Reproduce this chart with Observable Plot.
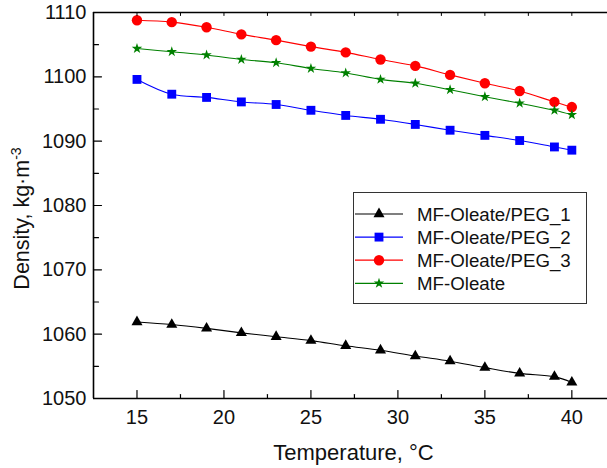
<!DOCTYPE html>
<html><head><meta charset="utf-8">
<script src="https://cdn.jsdelivr.net/npm/d3@7"></script>
<script src="https://cdn.jsdelivr.net/npm/@observablehq/plot@0.6"></script>
<style>html,body{margin:0;padding:0;background:#fff} svg{display:block}</style>
</head><body><div id="chart"></div>
<script>
const temperature = [15,17,19,21,23,25,27,29,31,33,35,37,39,40];
const peg1   = [1061.9,1061.5,1060.9,1060.2,1059.6,1059.0,1058.2,1057.5,1056.6,1055.8,1054.8,1053.9,1053.4,1052.5];
const peg2   = [1099.6,1097.3,1096.8,1096.1,1095.7,1094.8,1094.0,1093.4,1092.6,1091.7,1090.9,1090.1,1089.1,1088.6];
const peg3   = [1108.8,1108.5,1107.7,1106.6,1105.7,1104.7,1103.8,1102.7,1101.7,1100.3,1099.0,1097.8,1096.1,1095.3];
const oleate = [1104.4,1103.9,1103.4,1102.7,1102.2,1101.3,1100.6,1099.6,1099.0,1098.0,1096.9,1095.9,1094.8,1094.1];
const seriesNames = ["MF-Oleate/PEG_1","MF-Oleate/PEG_2","MF-Oleate/PEG_3","MF-Oleate"];
const seriesValues = [peg1, peg2, peg3, oleate];
const seriesColors = ["#000000","#0000ff","#ff0000","#008000"];
const seriesSymbols = ["triangle","square","circle","star"];
const seriesR = [4.1, 5.0, 5.2, 3.3];
const xTicks = [15,20,25,30,35,40];
const xMinorTicks = [17.5,22.5,27.5,32.5,37.5];
const xTopTicks = [15,17.5,20,22.5,25,27.5,30,32.5,35,37.5,40];
const yTicks = [1050,1060,1070,1080,1090,1100,1110];
const yMinorTicks = [1055,1065,1075,1085,1095,1105];
const xTitle = "Temperature, °C";
const yTitle = "Density, kg·m";
const yTitleSup = "-3";

const font = "'Liberation Sans', Arial, Helvetica, sans-serif";
const series = seriesNames.map((name, i) => ({
  name, color: seriesColors[i], symbol: seriesSymbols[i], r: seriesR[i],
  rows: temperature.map((t, j) => ({t, d: seriesValues[i][j]}))
}));

const tickShape = {draw(context, l) { context.moveTo(0, 0); context.lineTo(0, -l); }};

const marks = [];
series.forEach(s => {
  marks.push(Plot.line(s.rows, {x: "t", y: "d", stroke: s.color, strokeWidth: 1.1, curve: "catmull-rom"}));
});
series.forEach(s => {
  marks.push(Plot.dot(s.rows, {x: "t", y: "d", symbol: s.symbol, r: s.r, fill: s.color, stroke: "none"}));
});
// frame lines
marks.push(Plot.ruleX([12.5], {stroke: "#000", strokeWidth: 1.6}));
marks.push(Plot.ruleY([1050, 1110], {stroke: "#000", strokeWidth: 1.6}));
// ticks (inward)
const tk = {shape: tickShape, anchor: "start", stroke: "#000", strokeWidth: 1.2};
marks.push(Plot.vector(yTicks, {...tk, y: d => d, frameAnchor: "left", length: 8, rotate: 90}));
marks.push(Plot.vector(yMinorTicks, {...tk, y: d => d, frameAnchor: "left", length: 5, rotate: 90}));
marks.push(Plot.vector(xTicks, {...tk, x: d => d, frameAnchor: "bottom", length: 8, rotate: 0}));
marks.push(Plot.vector(xMinorTicks, {...tk, x: d => d, frameAnchor: "bottom", length: 4, rotate: 0}));
marks.push(Plot.vector(xTopTicks, {...tk, x: d => d, frameAnchor: "top", length: 3, rotate: 180, strokeWidth: 1}));
// axes labels
marks.push(Plot.axisY(yTicks, {anchor: "left", tickSize: 0, tickPadding: 7, fontSize: 20, label: null, fill: "#111", tickFormat: d => String(d)}));
marks.push(Plot.axisX(xTicks, {anchor: "bottom", tickSize: 0, tickPadding: 11, fontSize: 20, label: null, fill: "#111", tickFormat: d => String(d)}));
marks.push(Plot.text([xTitle], {frameAnchor: "bottom", dy: 54, dx: 3, fontSize: 22, lineAnchor: "middle", textAnchor: "middle", fill: "#111"}));
marks.push(Plot.text([yTitle], {frameAnchor: "left", dx: -71, dy: 13, rotate: -90, fontSize: 21.5, lineAnchor: "middle", textAnchor: "middle", fill: "#111", className: "ylab"}));

const chart = Plot.plot({
  width: 607, height: 468,
  marginLeft: 93, marginRight: 0, marginTop: 12, marginBottom: 70,
  x: {domain: [12.5, 42.05]},
  y: {domain: [1050, 1110]},
  style: {fontFamily: font, background: "#fff", overflow: "hidden"},
  marks
});
document.getElementById("chart").appendChild(chart);

const svg = d3.select(chart);
svg.select("g.ylab text").append("tspan").attr("baseline-shift", "super").attr("font-size", "14px").text(yTitleSup);

// legend
const lg = svg.append("g").attr("font-family", font).attr("text-anchor", "start");
lg.append("rect").attr("x", 353.5).attr("y", 192.5).attr("width", 233).attr("height", 111)
  .attr("fill", "#fff").attr("stroke", "#333").attr("stroke-width", 1);
const symMap = {triangle: d3.symbolTriangle, square: d3.symbolSquare, circle: d3.symbolCircle, star: d3.symbolStar};
series.forEach((s, i) => {
  const y = 214 + i * 23.1;
  lg.append("line").attr("x1", 355).attr("x2", 403).attr("y1", y).attr("y2", y)
    .attr("stroke", s.color).attr("stroke-width", 1.2);
  lg.append("path").attr("d", d3.symbol(symMap[s.symbol], Math.PI * s.r * s.r)())
    .attr("transform", `translate(379,${y})`).attr("fill", s.color);
  lg.append("text").attr("x", 417).attr("y", y).attr("dy", "0.36em").attr("font-size", 18.7)
    .attr("fill", "#111").text(s.name);
});
</script>
</body></html>
